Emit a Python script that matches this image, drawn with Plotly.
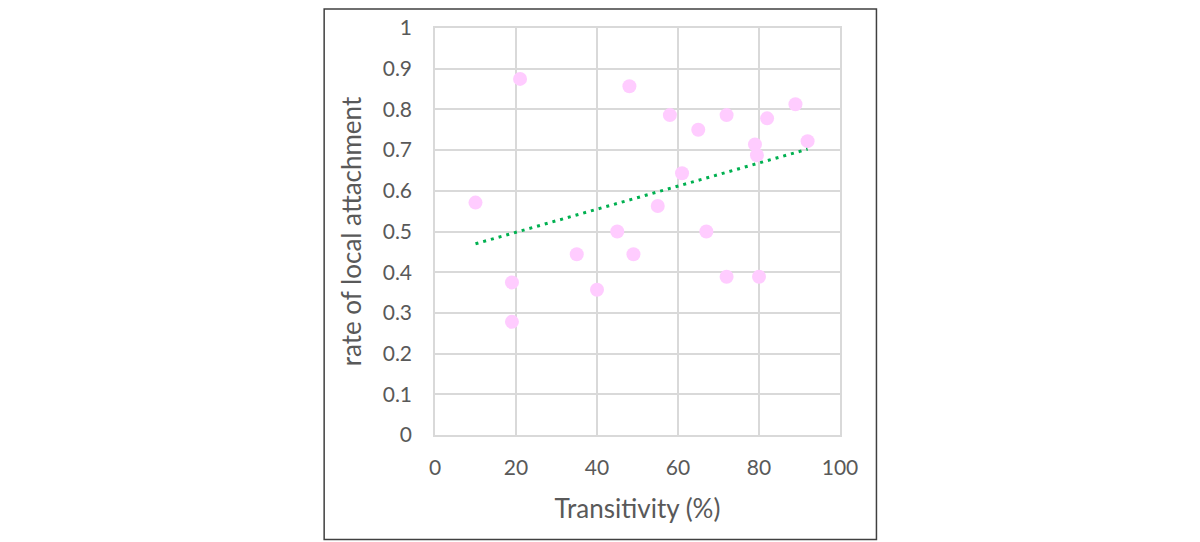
import numpy as np
import plotly.graph_objects as go

# transitivity (%) vs rate of local attachment
transitivity = [21, 48, 58, 65, 72, 82, 89, 92, 79, 79.5, 61,
                10, 55, 45, 67, 35, 49, 19, 72, 80, 40, 19]
attachment = [0.875, 0.857, 0.786, 0.75, 0.786, 0.778, 0.8125, 0.722, 0.714, 0.6875, 0.643,
              0.571, 0.5625, 0.5, 0.5, 0.444, 0.444, 0.375, 0.389, 0.389, 0.357, 0.278]

x_ticks = [0, 20, 40, 60, 80, 100]
y_ticks = [0, 0.1, 0.2, 0.3, 0.4, 0.5, 0.6, 0.7, 0.8, 0.9, 1]
y_labels = ["0", "0.1", "0.2", "0.3", "0.4", "0.5", "0.6", "0.7", "0.8", "0.9", "1"]

# linear trendline like excel's
slope, icpt = np.polyfit(transitivity, attachment, 1)
tx = [min(transitivity), max(transitivity)]
ty = [slope * v + icpt for v in tx]

grey = "#595959"
grid = "#d9d9d9"

fig = go.Figure()
fig.add_trace(go.Scatter(
    x=transitivity, y=attachment, mode="markers",
    marker=dict(color="#ffccff", size=14, line=dict(width=0)),
    showlegend=False, hoverinfo="x+y"
))
fig.add_trace(go.Scatter(
    x=tx, y=ty, mode="lines",
    line=dict(color="#00b050", width=3, dash="3px,5px"),
    showlegend=False, hoverinfo="skip"
))

# page body has an 8px margin, so margins are pulled in by 8
fig.update_layout(
    width=1200, height=542,
    margin=dict(l=426.5, r=368, t=20, b=115),
    paper_bgcolor="white", plot_bgcolor="white",
    font=dict(family="Lato, 'Open Sans', sans-serif", color=grey, size=21),
    xaxis=dict(
        range=[0, 100], tickvals=x_ticks, showgrid=True, gridcolor=grid, gridwidth=1.5,
        zeroline=False, showline=True, mirror=True, linecolor=grid, linewidth=1.5,
        ticks="", ticklabelstandoff=13, automargin=False,
        title=dict(text="Transitivity (%)", font=dict(size=26, color=grey), standoff=22),
    ),
    yaxis=dict(
        range=[0, 1], tickvals=y_ticks, ticktext=y_labels, showgrid=True, gridcolor=grid,
        gridwidth=1.5, zeroline=False, showline=True, mirror=True, linecolor=grid, linewidth=1.5,
        ticks="", ticklabelstandoff=17, automargin=False,
        title=dict(text="rate of local attachment", font=dict(size=26, color=grey), standoff=14),
    ),
    shapes=[dict(
        type="rect", xref="paper", yref="paper",
        x0=-0.2737, x1=1.090, y0=-0.2568, y1=1.0467,
        line=dict(color="#404040", width=1.5), fillcolor="rgba(0,0,0,0)", layer="below"
    )],
)

fig.write_html("out.html")
